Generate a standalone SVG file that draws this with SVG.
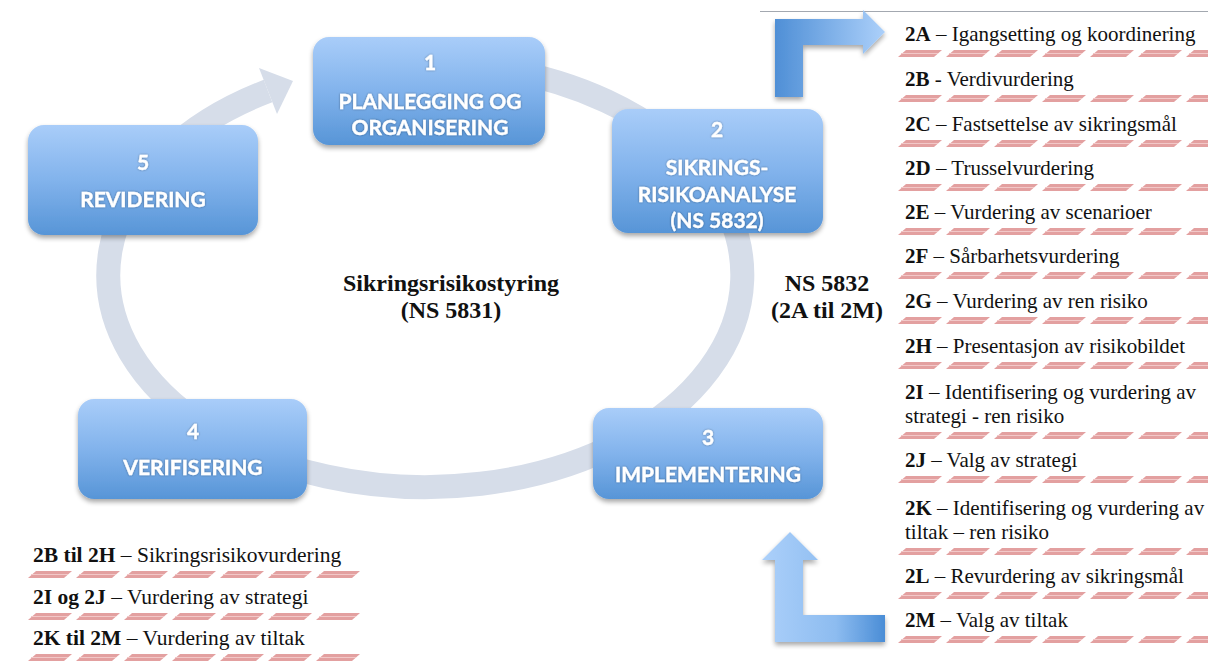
<svg xmlns="http://www.w3.org/2000/svg" width="1208" height="661" viewBox="0 0 1208 661">
  <defs>
    <linearGradient id="boxFill" x1="0" y1="0" x2="0" y2="1">
      <stop offset="0" stop-color="#a9cdf9"/>
      <stop offset="0.5" stop-color="#82b3ec"/>
      <stop offset="1" stop-color="#5795d7"/>
    </linearGradient>
    <linearGradient id="elbowTop" x1="775" y1="0" x2="885" y2="0" gradientUnits="userSpaceOnUse">
      <stop offset="0" stop-color="#4f8fd6"/>
      <stop offset="1" stop-color="#acd0fa"/>
    </linearGradient>
    <linearGradient id="elbowBottom" x1="762" y1="0" x2="885" y2="0" gradientUnits="userSpaceOnUse">
      <stop offset="0" stop-color="#acd0fa"/>
      <stop offset="0.6" stop-color="#8dbcf0"/>
      <stop offset="1" stop-color="#4a8dd6"/>
    </linearGradient>
    <filter id="shadow" x="-10%" y="-10%" width="125%" height="135%">
      <feGaussianBlur in="SourceAlpha" stdDeviation="2.5"/>
      <feOffset dx="0" dy="3" result="b"/>
      <feComponentTransfer><feFuncA type="linear" slope="0.35"/></feComponentTransfer>
      <feMerge><feMergeNode/><feMergeNode in="SourceGraphic"/></feMerge>
    </filter>
    <filter id="textGlow" x="-10%" y="-30%" width="120%" height="160%">
      <feGaussianBlur in="SourceAlpha" stdDeviation="1.2"/>
      <feComponentTransfer><feFuncA type="linear" slope="0.4"/></feComponentTransfer>
      <feMerge><feMergeNode/><feMergeNode in="SourceGraphic"/></feMerge>
    </filter>
    <!-- dashed red separator tile: one slanted bar per 48px -->
    <pattern id="stripe" x="0" y="0" width="48" height="7" patternUnits="userSpaceOnUse">
      <polygon points="8,0 44,0 36,7 0,7" fill="#e3a0a0"/>
      <line x1="3" y1="3.5" x2="40" y2="3.5" stroke="#f2c8c8" stroke-width="1"/>
    </pattern>
    <rect id="sepR" x="0" y="0" width="310" height="7" fill="url(#stripe)"/>
    <rect id="sepL" x="0" y="0" width="332" height="7" fill="url(#stripe)"/>
  </defs>
  <style>
    .box { fill: url(#boxFill); filter: url(#shadow); }
    .bt { font-family: Lato, "Open Sans", "Liberation Sans", sans-serif; font-weight: bold; font-size: 21px; fill: #ffffff; stroke: #ffffff; stroke-width: 0.35; text-anchor: middle; filter: url(#textGlow); }
    .lbl { font-family: "Liberation Serif", "Times New Roman", serif; font-weight: bold; font-size: 24px; fill: #111; text-anchor: middle; }
    .li { font-family: "Liberation Serif", "Times New Roman", serif; font-size: 21px; fill: #111; }
    .lg { font-size: 21.5px; }
    .li tspan.k { font-weight: bold; }
  </style>

  <rect width="1208" height="661" fill="#ffffff"/>
  <line x1="760" y1="11.5" x2="1208" y2="11.5" stroke="#a3a8b0" stroke-width="1"/>

  <!-- cycle ring with arrowhead, and the two elbow arrows -->
  <g id="connectors">
    <path d="M 478 66 A 317 212 0 1 1 268 91" fill="none" stroke="#d6dde9" stroke-width="24"/>
    <polygon points="259,68 293,81 277,114" fill="#d6dde9"/>
    <polygon id="elbow-top" points="775,97 775,19 863,19 863,10 885,32 863,54 863,45 803,45 803,97" fill="url(#elbowTop)" filter="url(#shadow)"/>
    <polygon id="elbow-bottom" points="790,532 818,560 803,560 803,615 885,615 885,642 775,642 775,560 762,560" fill="url(#elbowBottom)" filter="url(#shadow)"/>
  </g>

  <g id="node-1">
    <rect class="box" x="313" y="37" width="232" height="108" rx="16"/>
    <text class="bt" x="430" y="70">1</text>
    <text class="bt" x="430" y="109">PLANLEGGING OG</text>
    <text class="bt" x="430" y="135">ORGANISERING</text>
  </g>
  <g id="node-2">
    <rect class="box" x="612" y="109" width="211" height="124" rx="16"/>
    <text class="bt" x="717" y="137">2</text>
    <text class="bt" x="717" y="175">SIKRINGS-</text>
    <text class="bt" x="717" y="202">RISIKOANALYSE</text>
    <text class="bt" x="717" y="228">(NS 5832)</text>
  </g>
  <g id="node-3">
    <rect class="box" x="593" y="408" width="230" height="91" rx="16"/>
    <text class="bt" x="708" y="445">3</text>
    <text class="bt" x="708" y="482">IMPLEMENTERING</text>
  </g>
  <g id="node-4">
    <rect class="box" x="78" y="399" width="229" height="100" rx="16"/>
    <text class="bt" x="193" y="439">4</text>
    <text class="bt" x="193" y="475">VERIFISERING</text>
  </g>
  <g id="node-5">
    <rect class="box" x="28" y="125" width="230" height="110" rx="16"/>
    <text class="bt" x="143" y="170">5</text>
    <text class="bt" x="143" y="207">REVIDERING</text>
  </g>

  <g id="center-label">
    <text class="lbl" x="451" y="291">Sikringsrisikostyring</text>
    <text class="lbl" x="451" y="318">(NS 5831)</text>
  </g>
  <g id="ns5832-label">
    <text class="lbl" x="827" y="291">NS 5832</text>
    <text class="lbl" x="827" y="318">(2A til 2M)</text>
  </g>

  <!-- step list 2A–2M -->
  <g id="step-list">
    <text class="li" x="905" y="41"><tspan class="k">2A</tspan> – Igangsetting og koordinering</text>
    <use href="#sepR" transform="translate(898,50)"/>
    <text class="li" x="905" y="86"><tspan class="k">2B</tspan> - Verdivurdering</text>
    <use href="#sepR" transform="translate(898,95)"/>
    <text class="li" x="905" y="131"><tspan class="k">2C</tspan> – Fastsettelse av sikringsmål</text>
    <use href="#sepR" transform="translate(898,140)"/>
    <text class="li" x="905" y="175"><tspan class="k">2D</tspan> – Trusselvurdering</text>
    <use href="#sepR" transform="translate(898,184)"/>
    <text class="li" x="905" y="219"><tspan class="k">2E</tspan> – Vurdering av scenarioer</text>
    <use href="#sepR" transform="translate(898,228)"/>
    <text class="li" x="905" y="263"><tspan class="k">2F</tspan> – Sårbarhetsvurdering</text>
    <use href="#sepR" transform="translate(898,272)"/>
    <text class="li" x="905" y="308"><tspan class="k">2G</tspan> – Vurdering av ren risiko</text>
    <use href="#sepR" transform="translate(898,317)"/>
    <text class="li" x="905" y="353"><tspan class="k">2H</tspan> – Presentasjon av risikobildet</text>
    <use href="#sepR" transform="translate(898,362)"/>
    <text class="li" x="905" y="399"><tspan class="k">2I</tspan> – Identifisering og vurdering av</text>
    <text class="li" x="905" y="423">strategi - ren risiko</text>
    <use href="#sepR" transform="translate(898,432)"/>
    <text class="li" x="905" y="467"><tspan class="k">2J</tspan> – Valg av strategi</text>
    <use href="#sepR" transform="translate(898,476)"/>
    <text class="li" x="905" y="515"><tspan class="k">2K</tspan> – Identifisering og vurdering av</text>
    <text class="li" x="905" y="539">tiltak – ren risiko</text>
    <use href="#sepR" transform="translate(898,548)"/>
    <text class="li" x="905" y="583"><tspan class="k">2L</tspan> – Revurdering av sikringsmål</text>
    <use href="#sepR" transform="translate(898,592)"/>
    <text class="li" x="905" y="627"><tspan class="k">2M</tspan> – Valg av tiltak</text>
    <use href="#sepR" transform="translate(898,636)"/>
  </g>

  <!-- grouping legend -->
  <g id="legend">
    <text class="li lg" x="33" y="562"><tspan class="k">2B til 2H</tspan> – Sikringsrisikovurdering</text>
    <use href="#sepL" transform="translate(28,571)"/>
    <text class="li lg" x="33" y="604"><tspan class="k">2I og 2J</tspan> – Vurdering av strategi</text>
    <use href="#sepL" transform="translate(28,613)"/>
    <text class="li lg" x="33" y="645"><tspan class="k">2K til 2M</tspan> – Vurdering av tiltak</text>
    <use href="#sepL" transform="translate(28,654)"/>
  </g>
</svg>
